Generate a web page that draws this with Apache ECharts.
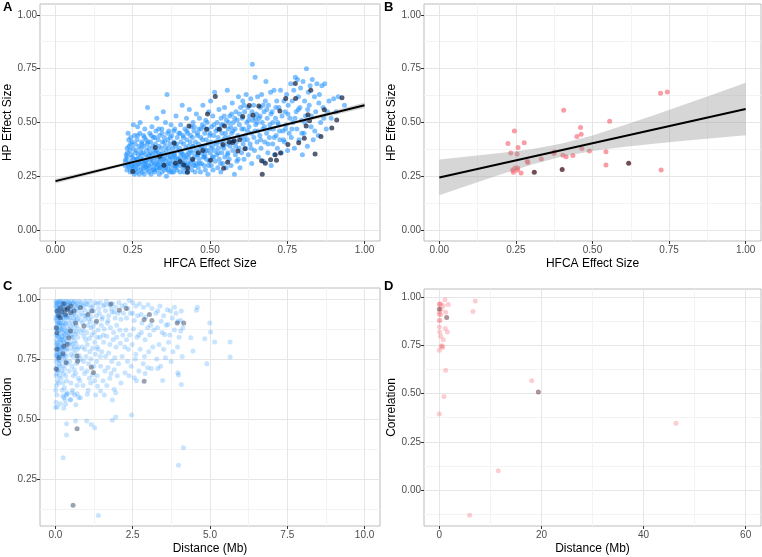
<!DOCTYPE html>
<html><head><meta charset="utf-8">
<script src="https://cdn.jsdelivr.net/npm/echarts@6/dist/echarts.min.js"></script>
<style>html,body{margin:0;padding:0;background:#fff}#c{width:762px;height:557px}</style>
</head><body><div id="c"></div>
<script>
// ---------- DATA ----------
const aBlue = [
[0.225,0.30],[0.228,0.33],[0.231,0.28],[0.233,0.36],[0.235,0.45],[0.236,0.31],[0.238,0.39],[0.239,0.29],[0.232,0.34],[0.237,0.42],
[0.242,0.27],[0.244,0.32],[0.245,0.35],[0.247,0.29],[0.248,0.41],[0.25,0.30],[0.251,0.38],[0.252,0.49],[0.254,0.33],[0.255,0.26],[0.256,0.44],[0.257,0.31],[0.258,0.36],[0.259,0.28],[0.243,0.40],[0.249,0.34],
[0.261,0.30],[0.262,0.37],[0.263,0.27],[0.264,0.42],[0.265,0.33],[0.266,0.48],[0.267,0.29],[0.268,0.35],[0.27,0.39],[0.271,0.26],[0.272,0.31],[0.273,0.45],[0.275,0.34],[0.276,0.28],[0.277,0.38],[0.278,0.32],[0.279,0.41],[0.274,0.50],
[0.281,0.27],[0.282,0.33],[0.283,0.36],[0.284,0.30],[0.285,0.44],[0.286,0.39],[0.287,0.26],[0.288,0.31],[0.289,0.47],[0.29,0.35],[0.292,0.29],[0.293,0.42],[0.294,0.32],[0.295,0.37],[0.296,0.28],[0.297,0.40],[0.298,0.57],[0.299,0.34],
[0.301,0.30],[0.302,0.27],[0.303,0.38],[0.304,0.33],[0.305,0.45],[0.306,0.29],[0.307,0.36],[0.308,0.41],[0.309,0.26],[0.31,0.31],[0.312,0.48],[0.313,0.35],[0.314,0.28],[0.315,0.39],[0.316,0.32],[0.317,0.43],[0.318,0.37],[0.319,0.30],
[0.321,0.27],[0.322,0.34],[0.323,0.40],[0.324,0.31],[0.325,0.46],[0.326,0.29],[0.327,0.37],[0.328,0.52],[0.329,0.33],[0.33,0.28],[0.332,0.42],[0.333,0.36],[0.334,0.30],[0.335,0.39],[0.336,0.26],[0.337,0.44],[0.338,0.32],[0.339,0.35],
[0.341,0.29],[0.342,0.38],[0.343,0.33],[0.344,0.47],[0.345,0.27],[0.346,0.41],[0.347,0.31],[0.348,0.36],[0.349,0.55],[0.35,0.30],[0.352,0.43],[0.353,0.34],[0.354,0.28],[0.355,0.39],[0.356,0.50],[0.357,0.32],[0.358,0.37],[0.359,0.25],
[0.361,0.63],[0.362,0.30],[0.363,0.35],[0.364,0.42],[0.365,0.28],[0.366,0.38],[0.367,0.46],[0.368,0.33],[0.369,0.27],[0.37,0.40],[0.372,0.31],[0.373,0.36],[0.374,0.49],[0.375,0.29],[0.376,0.44],[0.378,0.34],[0.379,0.38],
[0.381,0.32],[0.382,0.27],[0.383,0.41],[0.384,0.36],[0.385,0.30],[0.386,0.47],[0.387,0.34],[0.388,0.29],[0.389,0.39],[0.39,0.53],[0.392,0.33],[0.393,0.28],[0.394,0.43],[0.396,0.37],[0.397,0.31],[0.399,0.45],
[0.401,0.30],[0.402,0.38],[0.403,0.27],[0.404,0.34],[0.405,0.49],[0.406,0.41],[0.408,0.32],[0.409,0.36],[0.41,0.58],[0.412,0.29],[0.413,0.44],[0.414,0.35],[0.415,0.40],[0.416,0.27],[0.418,0.31],[0.419,0.47],
[0.421,0.33],[0.422,0.38],[0.423,0.29],[0.424,0.52],[0.425,0.42],[0.426,0.35],[0.427,0.27],[0.428,0.45],[0.429,0.31],[0.43,0.39],[0.432,0.34],[0.433,0.56],[0.434,0.30],[0.436,0.41],[0.437,0.37],[0.439,0.48],
[0.441,0.28],[0.442,0.36],[0.443,0.43],[0.444,0.32],[0.445,0.50],[0.446,0.39],[0.447,0.30],[0.448,0.46],[0.45,0.34],[0.452,0.27],[0.453,0.41],[0.455,0.37],[0.456,0.54],[0.457,0.31],[0.459,0.44],
[0.461,0.35],[0.462,0.29],[0.463,0.40],[0.464,0.47],[0.465,0.33],[0.466,0.52],[0.468,0.38],[0.469,0.27],[0.47,0.43],[0.472,0.31],[0.473,0.36],[0.475,0.49],[0.476,0.42],[0.477,0.58],[0.479,0.34],
[0.481,0.30],[0.482,0.39],[0.483,0.45],[0.484,0.35],[0.485,0.28],[0.486,0.51],[0.488,0.42],[0.489,0.33],[0.49,0.37],[0.492,0.47],[0.493,0.26],[0.494,0.40],[0.496,0.55],[0.497,0.32],[0.499,0.44],
[0.501,0.36],[0.502,0.60],[0.503,0.41],[0.504,0.30],[0.505,0.48],[0.507,0.34],[0.508,0.39],[0.509,0.53],[0.51,0.28],[0.512,0.44],[0.514,0.37],[0.515,0.64],[0.517,0.32],[0.519,0.46],
[0.521,0.40],[0.522,0.35],[0.523,0.50],[0.525,0.29],[0.526,0.43],[0.527,0.38],[0.529,0.56],[0.53,0.33],[0.532,0.47],[0.533,0.41],[0.535,0.27],[0.536,0.52],[0.538,0.36],[0.539,0.45],
[0.541,0.31],[0.542,0.49],[0.544,0.42],[0.545,0.38],[0.547,0.57],[0.548,0.34],[0.55,0.45],[0.552,0.29],[0.553,0.51],[0.555,0.40],[0.556,0.65],[0.558,0.36],[0.559,0.47],
[0.561,0.43],[0.562,0.33],[0.564,0.53],[0.565,0.39],[0.567,0.48],[0.568,0.30],[0.57,0.45],[0.572,0.59],[0.574,0.37],[0.575,0.50],[0.577,0.42],[0.579,0.26],
[0.581,0.47],[0.582,0.35],[0.584,0.55],[0.585,0.41],[0.587,0.32],[0.588,0.51],[0.59,0.44],[0.592,0.62],[0.594,0.38],[0.595,0.49],[0.597,0.29],[0.599,0.57],
[0.601,0.43],[0.602,0.36],[0.604,0.52],[0.606,0.60],[0.607,0.40],[0.609,0.47],[0.61,0.33],[0.612,0.55],[0.614,0.44],[0.616,0.38],[0.617,0.63],[0.619,0.50],
[0.621,0.42],[0.623,0.57],[0.624,0.35],[0.626,0.48],[0.628,0.53],[0.63,0.40],[0.632,0.61],[0.634,0.45],[0.635,0.31],[0.637,0.77],[0.639,0.51],
[0.641,0.58],[0.642,0.43],[0.644,0.37],[0.646,0.71],[0.648,0.49],[0.65,0.54],[0.652,0.41],[0.654,0.62],[0.655,0.46],[0.657,0.34],[0.659,0.52],
[0.661,0.44],[0.663,0.57],[0.665,0.38],[0.667,0.63],[0.669,0.50],[0.671,0.47],[0.673,0.32],[0.675,0.55],[0.677,0.41],[0.679,0.60],
[0.681,0.69],[0.683,0.45],[0.685,0.52],[0.687,0.36],[0.689,0.58],[0.692,0.43],[0.694,0.49],[0.696,0.64],[0.698,0.30],
[0.701,0.55],[0.703,0.40],[0.705,0.47],[0.707,0.65],[0.709,0.35],[0.712,0.52],[0.714,0.44],[0.716,0.60],[0.718,0.38],
[0.721,0.49],[0.723,0.57],[0.726,0.42],[0.728,0.65],[0.731,0.36],[0.733,0.53],[0.736,0.46],[0.739,0.60],
[0.741,0.41],[0.743,0.55],[0.746,0.49],[0.748,0.63],[0.751,0.37],[0.753,0.58],[0.756,0.45],[0.759,0.52],
[0.761,0.68],[0.763,0.43],[0.766,0.60],[0.768,0.50],[0.771,0.65],[0.773,0.38],[0.776,0.71],[0.779,0.55],
[0.781,0.47],[0.783,0.70],[0.786,0.62],[0.788,0.42],[0.791,0.57],[0.793,0.66],[0.796,0.51],[0.799,0.35],
[0.801,0.69],[0.804,0.45],[0.806,0.60],[0.809,0.53],[0.812,0.75],[0.815,0.39],[0.818,0.64],
[0.821,0.58],[0.824,0.67],[0.827,0.48],[0.831,0.70],[0.834,0.42],[0.838,0.62],
[0.842,0.55],[0.846,0.68],[0.85,0.44],[0.854,0.63],[0.858,0.50],
[0.862,0.67],[0.866,0.57],[0.871,0.68],[0.876,0.47],
[0.885,0.60],[0.892,0.52],[0.9,0.61],[0.908,0.55],[0.915,0.62],[0.935,0.58],
[0.226,0.32],[0.229,0.35],[0.234,0.30],[0.241,0.37],[0.246,0.31],[0.253,0.29],[0.262,0.33],[0.269,0.31],[0.276,0.36],[0.283,0.29],[0.291,0.32],[0.295,0.30],[0.303,0.35],[0.311,0.33],[0.318,0.28],[0.324,0.36],[0.331,0.31],[0.338,0.29],[0.343,0.35],[0.351,0.33],[0.357,0.29],[0.366,0.31],[0.371,0.34],[0.377,0.27],[0.385,0.35],[0.391,0.30],[0.398,0.33],[0.405,0.36],[0.411,0.31],[0.417,0.34],[0.424,0.30],[0.431,0.36],[0.438,0.32],[0.444,0.39],[0.451,0.30],[0.458,0.35],[0.466,0.31],[0.473,0.39],[0.481,0.34],[0.487,0.37],[0.495,0.30],[0.503,0.38],[0.511,0.34],[0.518,0.41],[0.526,0.36],[0.534,0.31],[0.541,0.39],[0.549,0.43],[0.557,0.35],[0.566,0.41],[0.574,0.46],[0.583,0.39],[0.591,0.33],[0.603,0.47],[0.611,0.42],[0.622,0.46],[0.633,0.38],[0.645,0.46],[0.653,0.50],[0.664,0.42],[0.676,0.48],[0.688,0.40],[0.697,0.54],[0.708,0.43],[0.719,0.50],
[0.232,0.38],[0.244,0.43],[0.258,0.40],[0.266,0.44],[0.28,0.40],[0.288,0.43],[0.3,0.41],[0.31,0.44],[0.322,0.43],[0.334,0.47],[0.345,0.45],[0.353,0.41],[0.363,0.45],[0.372,0.43],[0.383,0.46],[0.392,0.40],[0.403,0.45],[0.414,0.43],[0.425,0.46],[0.437,0.44],[0.449,0.48],[0.46,0.45],[0.471,0.47],[0.48,0.48],[0.491,0.50],[0.5,0.45],[0.513,0.49],[0.524,0.47],[0.537,0.49],[0.546,0.53],[0.56,0.50],[0.57,0.54],[0.58,0.52],[0.596,0.54],[0.61,0.58],[0.625,0.51],[0.636,0.55],[0.647,0.52],[0.662,0.53],[0.672,0.58],[0.684,0.56],[0.693,0.47],[0.703,0.50],[0.713,0.57],[0.725,0.46],[0.738,0.42],[0.744,0.47],[0.752,0.54],[0.765,0.47],[0.775,0.52],[0.786,0.56],[0.797,0.45],[0.807,0.50],[0.816,0.56],[0.828,0.53],[0.839,0.46],[0.852,0.59],[0.868,0.52],[0.88,0.55]
];
const aDark = [
[0.25,0.272],[0.323,0.384],[0.351,0.302],[0.337,0.342],[0.384,0.404],[0.388,0.311],[0.403,0.319],[0.415,0.303],[0.428,0.289],[0.432,0.484],
[0.427,0.269],[0.444,0.33],[0.462,0.36],[0.477,0.37],[0.489,0.469],[0.492,0.539],[0.502,0.325],[0.517,0.621],[0.530,0.469],[0.542,0.398],
[0.544,0.288],[0.547,0.484],[0.557,0.316],[0.562,0.41],[0.573,0.407],[0.578,0.415],[0.590,0.368],[0.596,0.42],[0.606,0.528],[0.613,0.378],
[0.627,0.579],[0.639,0.534],[0.658,0.577],[0.667,0.322],[0.669,0.26],[0.679,0.311],[0.696,0.327],[0.711,0.35],[0.715,0.325],[0.728,0.358],
[0.726,0.553],[0.745,0.611],[0.752,0.398],[0.776,0.681],[0.777,0.611],[0.787,0.406],[0.805,0.427],[0.811,0.484],[0.817,0.536],[0.822,0.508],
[0.826,0.65],[0.840,0.354],[0.859,0.435],[0.870,0.559],[0.894,0.474],[0.910,0.512],[0.927,0.615]
];
const fitAx = [0, 1];
const fitAy = [0.228, 0.580];
const bandAx = [0, 0.25, 0.5, 0.75, 1];
const bandAlo = [0.217, 0.310, 0.398, 0.485, 0.567];
const bandAhi = [0.239, 0.322, 0.409, 0.498, 0.593];

const bRed = [
[0.224,0.402],[0.233,0.358],[0.245,0.460],[0.239,0.280],[0.242,0.269],[0.247,0.289],[0.254,0.354],[0.257,0.384],[0.256,0.289],[0.255,0.280],
[0.267,0.266],[0.277,0.406],[0.287,0.320],[0.289,0.314],[0.333,0.331],[0.374,0.356],[0.376,0.364],[0.403,0.348],[0.406,0.557],[0.414,0.341],
[0.436,0.347],[0.449,0.435],[0.461,0.477],[0.463,0.446],[0.465,0.379],[0.490,0.368],[0.544,0.364],[0.544,0.303],[0.556,0.506],[0.722,0.636],
[0.744,0.642],[0.724,0.280]
];
const bDark = [[0.310,0.269],[0.401,0.282],[0.618,0.311]];
const fitBx = [0, 1];
const fitBy = [0.245, 0.563];
const bandBx = [0, 0.1, 0.2, 0.3, 0.4, 0.5, 0.6, 0.7, 0.8, 0.9, 1.0];
const bandBlo = [0.162, 0.211, 0.259, 0.304, 0.342, 0.368, 0.386, 0.401, 0.415, 0.428, 0.441];
const bandBhi = [0.328, 0.343, 0.358, 0.376, 0.402, 0.440, 0.486, 0.534, 0.584, 0.634, 0.685];

const cBlue = [
[0.02,0.99],[0.05,0.98],[0.01,0.97],[0.08,0.96],[0.03,0.95],[0.1,0.94],[0.04,0.93],[0.07,0.92],[0.02,0.91],[0.12,0.90],[0.05,0.89],[0.01,0.88],[0.09,0.87],[0.03,0.86],[0.06,0.85],[0.11,0.84],[0.02,0.83],[0.08,0.82],[0.04,0.81],[0.13,0.80],[0.01,0.79],[0.06,0.78],[0.1,0.77],[0.03,0.76],[0.07,0.75],[0.02,0.74],[0.12,0.73],[0.05,0.72],[0.01,0.71],[0.09,0.70],[0.04,0.69],[0.02,0.68],[0.07,0.66],[0.03,0.64],[0.01,0.62],[0.05,0.6],[0.02,0.57],[0.06,0.55],[0.12,0.99],[0.14,0.97],[0.13,0.95],[0.15,0.92],[0.14,0.89],[0.1,0.985],[0.06,0.975],[0.09,0.955],[0.11,0.925],[0.07,0.905],[0.13,0.875],[0.04,0.965],[0.08,0.935],[0.12,0.855],[0.15,0.83],[0.03,0.815],[0.1,0.805],[0.14,0.785],[0.06,0.765],[0.11,0.745],[0.15,0.72],[0.08,0.705],[0.13,0.68],[0.1,0.65],
[0.17,0.99],[0.2,0.98],[0.23,0.97],[0.26,0.99],[0.3,0.98],[0.34,0.99],[0.38,0.975],[0.18,0.96],[0.22,0.95],[0.27,0.96],[0.31,0.94],[0.36,0.955],[0.19,0.93],[0.24,0.92],[0.29,0.915],[0.33,0.93],[0.39,0.92],[0.16,0.9],[0.21,0.89],[0.26,0.885],[0.32,0.895],[0.37,0.88],[0.18,0.87],[0.23,0.86],[0.28,0.855],[0.35,0.865],[0.2,0.84],[0.25,0.83],[0.3,0.835],[0.38,0.845],[0.17,0.82],[0.22,0.81],[0.27,0.8],[0.33,0.815],[0.19,0.79],[0.24,0.78],[0.31,0.77],[0.36,0.79],[0.21,0.76],[0.28,0.75],[0.34,0.74],[0.16,0.74],[0.23,0.72],[0.3,0.71],[0.38,0.73],[0.2,0.7],[0.26,0.69],[0.33,0.68],[0.18,0.67],[0.24,0.65],[0.36,0.66],[0.29,0.63],[0.22,0.62],[0.35,0.6],[0.27,0.59],[0.31,0.58],[0.37,0.61],
[0.42,0.99],[0.47,0.98],[0.52,0.99],[0.58,0.985],[0.63,0.99],[0.7,0.98],[0.76,0.99],[0.44,0.96],[0.5,0.95],[0.55,0.965],[0.61,0.955],[0.67,0.96],[0.73,0.95],[0.79,0.965],[0.41,0.93],[0.46,0.92],[0.53,0.935],[0.59,0.92],[0.65,0.93],[0.71,0.915],[0.78,0.93],[0.43,0.9],[0.49,0.885],[0.56,0.895],[0.62,0.88],[0.68,0.89],[0.75,0.875],[0.45,0.86],[0.51,0.85],[0.57,0.84],[0.64,0.855],[0.72,0.84],[0.48,0.82],[0.54,0.81],[0.6,0.8],[0.66,0.815],[0.74,0.8],[0.42,0.79],[0.5,0.77],[0.56,0.76],[0.63,0.775],[0.69,0.75],[0.77,0.765],[0.46,0.74],[0.53,0.72],[0.61,0.705],[0.68,0.73],[0.44,0.7],[0.58,0.68],[0.65,0.69],[0.74,0.67],[0.5,0.65],[0.7,0.64],[0.79,0.66],[0.55,0.62],[0.62,0.6],[0.75,0.59],[0.48,0.58],[0.66,0.56],
[0.83,0.985],[0.9,0.97],[0.97,0.99],[1.04,0.975],[1.12,0.99],[1.2,0.97],[1.28,0.985],[1.36,0.98],[0.86,0.94],[0.94,0.955],[1.0,0.93],[1.08,0.945],[1.16,0.925],[1.24,0.95],[1.33,0.93],[0.81,0.91],[0.88,0.9],[0.96,0.915],[1.05,0.89],[1.13,0.905],[1.22,0.885],[1.3,0.9],[1.38,0.87],[0.84,0.86],[0.92,0.845],[1.01,0.86],[1.1,0.835],[1.18,0.85],[1.27,0.82],[1.35,0.84],[0.87,0.8],[0.95,0.79],[1.03,0.81],[1.11,0.78],[1.2,0.795],[1.29,0.77],[1.37,0.79],[0.82,0.75],[0.91,0.74],[0.99,0.76],[1.07,0.73],[1.15,0.75],[1.24,0.72],[1.33,0.74],[0.85,0.71],[0.94,0.69],[1.02,0.7],[1.1,0.67],[1.19,0.685],[1.27,0.66],[1.35,0.68],[0.89,0.64],[1.06,0.62],[1.14,0.65],[1.3,0.6],
[1.45,0.985],[1.55,0.97],[1.65,0.99],[1.74,0.975],[1.85,0.98],[1.95,0.965],[2.05,0.985],[2.15,0.97],[1.42,0.94],[1.52,0.925],[1.62,0.95],[1.72,0.93],[1.83,0.945],[1.93,0.92],[2.02,0.94],[2.12,0.915],[1.48,0.89],[1.58,0.875],[1.68,0.9],[1.78,0.88],[1.88,0.86],[1.98,0.89],[2.08,0.87],[2.18,0.85],[1.44,0.84],[1.56,0.82],[1.66,0.845],[1.76,0.81],[1.86,0.83],[1.96,0.8],[2.1,0.815],[1.5,0.78],[1.62,0.76],[1.72,0.775],[1.82,0.74],[1.92,0.755],[2.04,0.73],[2.16,0.76],[1.46,0.72],[1.6,0.7],[1.7,0.715],[1.8,0.69],[1.9,0.705],[2.0,0.68],[1.54,0.66],[1.66,0.64],[1.76,0.67],[2.12,0.65],[1.58,0.6],[1.84,0.58],
[2.25,0.975],[2.35,0.96],[2.5,0.985],[2.6,0.97],[2.72,0.98],[2.85,0.965],[3.0,0.975],[3.12,0.96],[2.3,0.92],[2.42,0.94],[2.55,0.91],[2.66,0.93],[2.8,0.9],[2.92,0.925],[3.08,0.89],[2.28,0.87],[2.4,0.85],[2.52,0.875],[2.64,0.84],[2.78,0.86],[2.9,0.83],[3.05,0.85],[3.18,0.87],[2.24,0.8],[2.36,0.79],[2.48,0.81],[2.6,0.77],[2.74,0.79],[2.88,0.76],[3.02,0.78],[3.15,0.8],[2.33,0.74],[2.45,0.72],[2.58,0.75],[2.7,0.7],[2.84,0.73],[3.1,0.71],[2.38,0.68],[2.62,0.66],[2.9,0.69],
[3.25,0.94],[3.38,0.97],[3.5,0.93],[3.62,0.955],[3.78,0.92],[3.9,0.94],[4.05,0.91],[3.3,0.88],[3.45,0.86],[3.58,0.89],[3.7,0.85],[3.85,0.87],[4.0,0.84],[4.12,0.88],[3.35,0.81],[3.5,0.79],[3.66,0.82],[3.8,0.78],[3.95,0.8],[3.28,0.75],[3.56,0.755],[3.74,0.74],[4.1,0.76],[3.4,0.72],
[2.39,0.993],[2.77,0.935],[2.98,0.88],[3.31,0.95],[3.42,0.907],[3.53,0.852],[3.64,0.893],[3.72,0.949],[3.85,0.965],[3.96,0.907],[4.07,0.949],[4.05,0.866],[4.38,0.838],[4.45,0.783],[4.56,0.953],[4.59,0.965],[4.83,0.834],[4.99,0.900],[5.02,0.862],[5.15,0.821],[4.9,0.73],[5.65,0.821],[5.65,0.758],
[3.96,0.693],[3.98,0.683],[4.07,0.644],[3.47,0.661],[2.98,0.714],[3.31,0.711],[2.55,0.672],[2.25,0.693],[1.9,0.624],[1.95,0.61],[1.84,0.495],[1.95,0.509],[2.46,0.517],[1.01,0.492],[1.16,0.478],[1.27,0.464],[0.65,0.492],[0.36,0.481],[0.36,0.434],[0.25,0.34],[1.39,0.10],[4.14,0.381],[3.98,0.308],
[0.0,0.548],[0.16,0.564],[0.27,0.545],[0.33,0.562],[0.49,0.582],[0.81,0.589],[0.7,0.606],[1.03,0.603],[1.46,0.617],[1.36,0.637],[0.54,0.61],[0.38,0.603],[0.24,0.596],
[0.03,0.985],[0.06,0.945],[0.01,0.92],[0.09,0.9],[0.04,0.875],[0.02,0.85],[0.08,0.845],[0.05,0.8],[0.11,0.79],[0.02,0.77],[0.14,0.76],[0.19,0.985],[0.25,0.975],[0.32,0.97],[0.4,0.985],[0.21,0.94],[0.28,0.935],[0.35,0.925],[0.17,0.91],[0.25,0.9],[0.34,0.9],[0.2,0.875],[0.29,0.87],[0.4,0.86],[0.22,0.845],[0.32,0.85],[0.18,0.83],[0.27,0.82],[0.37,0.825],[0.21,0.8],[0.3,0.79],[0.16,0.77],[0.26,0.765],[0.35,0.76],[0.45,0.975],[0.55,0.98],[0.65,0.975],[0.48,0.95],[0.6,0.94],[0.72,0.97],[0.52,0.91],[0.66,0.91],[0.47,0.875],[0.58,0.865],[0.7,0.86],[0.53,0.84],[0.62,0.825],[0.44,0.81],[0.57,0.79],[0.71,0.79],[0.86,0.975],[1.0,0.98],[1.15,0.965],[0.93,0.93],[1.08,0.915],[0.9,0.87],[1.15,0.88],[0.98,0.83],[1.25,0.86],[1.4,0.96],[1.6,0.975],[1.8,0.96],[1.5,0.915],[1.7,0.91],[1.9,0.945],[2.2,0.94],[1.35,0.8],[1.55,0.85],[1.45,0.76],[1.98,0.84],[2.3,0.83],[2.5,0.94],[2.7,0.85]
];
const cDark = [
[0.70,0.46],[0.57,0.142],[2.87,0.657],[4.15,0.90],[3.94,0.90],[2.87,0.914],[3.04,0.935],[3.12,0.91],[2.29,0.96],[2.07,0.953],[1.79,0.979],
[1.16,0.716],[1.23,0.694],[0.7,0.762],[0.72,0.741],[0.34,0.734],[0.03,0.707],[0.11,0.755],[0.24,0.772],[0.43,0.838],[0.38,0.81],[0.49,0.866],
[0.05,0.859],[0.03,0.88],[0.05,0.949],[0.16,0.963],[0.27,0.98],[0.38,0.956],[0.6,0.949],[0.81,0.963],[0.92,0.887],[1.05,0.935],[1.18,0.949],
[1.33,0.907],[0.16,0.921],[0.33,0.935],[0.49,0.942],[0.65,0.9],[0.05,0.79],[0.27,0.803],[0.1,0.93],[0.2,0.945],[0.3,0.955],[0.4,0.962],[0.5,0.97]
];

const dPink = [
[0.26,0.964],[0.07,0.962],[0.0,0.921],[0.39,0.935],[0.78,0.954],[1.11,0.985],[1.24,0.921],[1.76,0.961],[0.0,0.878],[0.13,0.878],
[0.0,0.844],[0.07,0.818],[0.26,0.796],[0.78,0.779],[0.33,0.746],[0.59,0.746],[0.65,0.738],[0.0,0.724],[1.17,0.837],[1.57,0.818],
[1.24,0.621],[0.91,0.485],[0.0,0.395],[7.05,0.979],[6.59,0.925],[18.08,0.566],[11.55,0.101],[5.94,-0.129],[46.34,0.346],[0.0,0.964],
[0.0,0.909],[0.26,0.909]
];
const dDark = [[0.0,0.938],[1.44,0.894],[19.39,0.508]];

// ticks
const ticksAB = [0, 0.25, 0.5, 0.75, 1];
const labelsAB = ['0.00', '0.25', '0.50', '0.75', '1.00'];
const minorAB = [0.125, 0.375, 0.625, 0.875];
const ticksCx = [0, 2.5, 5, 7.5, 10];
const labelsCx = ['0.0', '2.5', '5.0', '7.5', '10.0'];
const minorCx = [1.25, 3.75, 6.25, 8.75];
const ticksCy = [0.25, 0.5, 0.75, 1];
const labelsCy = ['0.25', '0.50', '0.75', '1.00'];
const minorCy = [0.125, 0.375, 0.625, 0.875];
const ticksDx = [0, 20, 40, 60];
const labelsDx = ['0', '20', '40', '60'];
const minorDx = [10, 30, 50];
const ticksDy = [0, 0.25, 0.5, 0.75, 1];
const labelsDy = ['0.00', '0.25', '0.50', '0.75', '1.00'];
const minorDy = [-0.125, 0.125, 0.375, 0.625, 0.875];

// ---------- CHART ----------
const FONT = "'Liberation Sans', Arial, Helvetica, sans-serif";
const chart = echarts.init(document.getElementById('c'), null, {renderer: 'canvas'});

const grids = [
  {left: 40, top: 4, width: 340, height: 237},
  {left: 424, top: 4, width: 337, height: 237},
  {left: 40, top: 288, width: 340, height: 238},
  {left: 424, top: 289, width: 337, height: 237}
].map(g => Object.assign({show: true, borderColor: '#bcbcbc', borderWidth: 1, backgroundColor: '#fff', containLabel: false}, g));

function lab(ticks, labels) {
  return v => { const i = ticks.findIndex(t => Math.abs(t - v) < 1e-9); return i >= 0 ? labels[i] : ''; };
}
function majorX(gi, min, max, ticks, labels, name) {
  return {type: 'value', gridIndex: gi, min, max, position: 'bottom',
    name, nameLocation: 'middle', nameGap: 17,
    nameTextStyle: {fontFamily: FONT, fontSize: 12, color: '#000'},
    axisLine: {show: false, onZero: false},
    axisTick: {show: true, length: 3, customValues: ticks, lineStyle: {color: '#333', width: 1}},
    axisLabel: {show: true, customValues: ticks, formatter: lab(ticks, labels), margin: 4, fontFamily: FONT, fontSize: 10, color: '#4d4d4d'},
    splitLine: {show: true, lineStyle: {color: '#e6e6e6', width: 1}}};
}
function majorY(gi, min, max, ticks, labels, name) {
  return {type: 'value', gridIndex: gi, min, max, position: 'left',
    name, nameLocation: 'middle', nameGap: 24,
    nameTextStyle: {fontFamily: FONT, fontSize: 12, color: '#000'},
    axisLine: {show: false, onZero: false},
    axisTick: {show: true, length: 3, customValues: ticks, lineStyle: {color: '#333', width: 1}},
    axisLabel: {show: true, customValues: ticks, formatter: lab(ticks, labels), margin: 3, fontFamily: FONT, fontSize: 10, color: '#4d4d4d'},
    splitLine: {show: true, lineStyle: {color: '#e6e6e6', width: 1}}};
}
function minorAxis(gi, min, max, ticks, pos) {
  return {type: 'value', gridIndex: gi, min, max, position: pos,
    axisLine: {show: false, onZero: false}, axisLabel: {show: false},
    axisTick: {show: false, customValues: ticks},
    splitLine: {show: true, lineStyle: {color: '#f3f3f3', width: 1}}};
}

const xAxis = [
  majorX(0, -0.05, 1.05, ticksAB, labelsAB, 'HFCA Effect Size'),
  majorX(1, -0.05, 1.05, ticksAB, labelsAB, 'HFCA Effect Size'),
  majorX(2, -0.5, 10.5, ticksCx, labelsCx, 'Distance (Mb)'),
  majorX(3, -3, 63, ticksDx, labelsDx, 'Distance (Mb)'),
  minorAxis(0, -0.05, 1.05, minorAB, 'top'),
  minorAxis(1, -0.05, 1.05, minorAB, 'top'),
  minorAxis(2, -0.5, 10.5, minorCx, 'top'),
  minorAxis(3, -3, 63, minorDx, 'top')
];
const yAxis = [
  majorY(0, -0.05, 1.05, ticksAB, labelsAB, 'HP Effect Size'),
  majorY(1, -0.05, 1.05, ticksAB, labelsAB, 'HP Effect Size'),
  majorY(2, 0.056, 1.045, ticksCy, labelsCy, 'Correlation'),
  majorY(3, -0.185, 1.041, ticksDy, labelsDy, 'Correlation'),
  minorAxis(0, -0.05, 1.05, minorAB, 'right'),
  minorAxis(1, -0.05, 1.05, minorAB, 'right'),
  minorAxis(2, 0.056, 1.045, minorCy, 'right'),
  minorAxis(3, -0.185, 1.041, minorDy, 'right')
];

function scatter(i, data, color, size, z) {
  return {type: 'scatter', xAxisIndex: i, yAxisIndex: i, data, symbolSize: size, z: z || 2,
    itemStyle: {color, borderWidth: 0}, silent: true, animation: false};
}
function band(i, xs, lo, hi) {
  return {type: 'custom', xAxisIndex: i, yAxisIndex: i, data: [[xs[0], lo[0]]], silent: true, animation: false, z: 3,
    renderItem: (params, api) => {
      const top = xs.map((x, k) => api.coord([x, hi[k]]));
      const bot = xs.map((x, k) => api.coord([x, lo[k]])).reverse();
      return {type: 'polygon', shape: {points: top.concat(bot)}, style: {fill: 'rgba(153,153,153,0.4)'}};
    }};
}
function fit(i, xs, ys) {
  return {type: 'line', xAxisIndex: i, yAxisIndex: i, data: xs.map((x, k) => [x, ys[k]]),
    symbol: 'none', lineStyle: {color: '#000', width: 2}, silent: true, animation: false, z: 4};
}

const series = [
  scatter(0, aBlue, 'rgba(30,144,255,0.7)', 5),
  scatter(0, aDark, 'rgba(20,32,60,0.9)', 5),
  band(0, bandAx, bandAlo, bandAhi),
  fit(0, fitAx, fitAy),
  scatter(1, bRed, 'rgba(245,100,112,0.8)', 5),
  scatter(1, bDark, 'rgba(70,20,28,0.95)', 5),
  band(1, bandBx, bandBlo, bandBhi),
  fit(1, fitBx, fitBy),
  scatter(2, cBlue, 'rgba(30,144,255,0.3)', 5),
  scatter(2, cDark, 'rgba(25,45,80,0.55)', 5),
  scatter(3, dPink, 'rgba(245,100,112,0.4)', 5),
  scatter(3, dDark, 'rgba(90,30,35,0.6)', 5)
];

const letters = [['A', 3, 1], ['B', 384, 1], ['C', 3, 280], ['D', 384, 280]];
const graphic = letters.map(l => ({type: 'text', left: l[1], top: l[2],
  style: {text: l[0], font: "bold 13px " + FONT, fill: '#000'}}));

chart.setOption({animation: false, backgroundColor: '#fff', grid: grids, xAxis, yAxis, series, graphic});
</script></body></html>
